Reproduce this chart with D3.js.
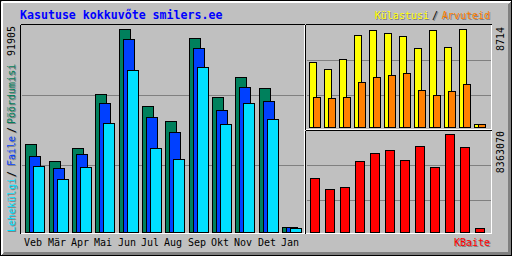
<!DOCTYPE html>
<html>
<head>
<meta charset="utf-8">
<script src="https://cdn.jsdelivr.net/npm/d3@7"></script>
<style>
body { margin: 0; background: #fff; }
svg { display: block; }
text { font-family: "DejaVu Sans Mono", monospace; }
</style>
</head>
<body>
<div id="chart"></div>
<script>
// monthly values
var months = ["Veb", "Mär", "Apr", "Mai", "Jun", "Jul", "Aug", "Sep", "Okt", "Nov", "Det", "Jan"];
var hits   = [39700, 32000, 37890, 62470, 91905, 56900, 50110, 87690, 60980, 70030, 65050, 2130];
var files  = [34400, 28840, 35170, 58260, 87240, 51920, 45130, 83160, 55090, 65510, 59300, 2130];
var pages  = [29880, 23860, 29430, 49210, 73200, 37890, 32910, 74560, 48760, 58260, 51020, 1680];
var visits = [5780, 5160, 6050, 8180, 8630, 8360, 8090, 7020, 8630, 7110, 8714, 270];
var sites  = [2670, 2580, 2670, 4000, 4450, 4620, 4800, 3290, 2850, 3200, 3820, 270];
var kbytes = [4634000, 3695000, 3866000, 6084000, 6742000, 7023000, 6170000, 7339000, 5573000, 8363070, 7254000, 341000];

var title = "Kasutuse kokkuvőte smilers.ee";

var W = 512, H = 256;
var bg = "#c0c0c0", dkgrey = "#808080";

var svg = d3.select("#chart").append("svg")
  .attr("width", W)
  .attr("height", H)
  .attr("shape-rendering", "crispEdges");

svg.append("rect").attr("width", W).attr("height", H).attr("fill", bg);

// bevel of the outer frame
function line(x1, y1, x2, y2, c) {
  svg.append("line")
    .attr("x1", x1 + 0.5).attr("y1", y1 + 0.5)
    .attr("x2", x2 + 0.5).attr("y2", y2 + 0.5)
    .attr("stroke", c);
}
line(1, 1, 510, 1, "#fff"); line(1, 2, 509, 2, "#fff");
line(1, 1, 1, 254, "#fff"); line(2, 1, 2, 253, "#fff");
line(1, 254, 510, 254, dkgrey); line(2, 253, 510, 253, dkgrey); line(3, 252, 510, 252, dkgrey);
line(510, 1, 510, 254, dkgrey); line(509, 2, 509, 254, dkgrey); line(508, 3, 508, 254, dkgrey);
svg.append("rect").attr("x", 0.5).attr("y", 0.5).attr("width", W - 1).attr("height", H - 1)
  .attr("fill", "none").attr("stroke", "#000");

// inset panels
function panel(x0, y0, x1, y1) {
  line(x0, y0, x1, y0, "#000");
  line(x0, y0, x0, y1, "#000");
  line(x0, y1, x1, y1, "#fff");
  line(x1, y0, x1, y1, "#fff");
}
panel(20, 24, 304, 233);
panel(305, 24, 491, 129);
panel(305, 130, 491, 233);

// grid lines
[95, 165].forEach(function (y) { line(21, y, 303, y, dkgrey); });
[60, 95].forEach(function (y) { line(306, y, 490, y, dkgrey); });
[165, 200].forEach(function (y) { line(306, y, 490, y, dkgrey); });

// scales
var xMain = d3.scaleBand().domain(months).range([25.4, 305.4]);
var xSide = d3.scaleBand().domain(months).range([309, 489]);
var yMain = d3.scaleLinear().domain([0, d3.max(hits)]).range([232, 29]);
var yVis  = d3.scaleLinear().domain([0, d3.max(visits)]).range([127, 29]);
var yKb   = d3.scaleLinear().domain([0, d3.max(kbytes)]).range([232, 134]);

function bars(values, x, off, w, y, color) {
  svg.append("g").selectAll("rect")
    .data(values)
    .enter()
    .append("rect")
    .attr("x", (d, i) => Math.round(x(months[i])) + off + 0.5)
    .attr("y", d => Math.round(y(d)) + 0.5)
    .attr("width", w)
    .attr("height", d => y(0) - Math.round(y(d)))
    .attr("fill", color)
    .attr("stroke", "#000");
}
bars(hits, xMain, 0, 11, yMain, "#00805c");
bars(files, xMain, 4, 11, yMain, "#0040ff");
bars(pages, xMain, 8, 11, yMain, "#00e0ff");
bars(visits, xSide, 0, 7, yVis, "#ffff00");
bars(sites, xSide, 4, 7, yVis, "#ff8000");
bars(kbytes, xSide, 1, 9, yKb, "#ff0000");

// labels
var txt = svg.append("g").attr("shape-rendering", "auto");

txt.append("text")
  .attr("x", 20).attr("y", 19)
  .style("font-size", "11.6px").style("font-weight", "bold")
  .attr("fill", "#0000ff")
  .text(title);

txt.selectAll(".mon")
  .data(months)
  .enter()
  .append("text")
  .attr("x", d => Math.round(xMain(d)) + 8)
  .attr("y", 246)
  .attr("text-anchor", "middle")
  .style("font-size", "10px")
  .attr("fill", "#000")
  .text(d => d);

// text with a dark grey shadow
function shadowText(x, y, s, color, anchor, rot) {
  [[1, 1, dkgrey], [0, 0, color]].forEach(function (p) {
    txt.append("text")
      .attr("transform", `translate(${x + p[0]}, ${y + p[1]})` + (rot ? " rotate(-90)" : ""))
      .attr("text-anchor", anchor)
      .style("font-size", "10px")
      .attr("fill", p[2])
      .text(s);
  });
}

// top right legend
shadowText(429, 19, "Külastusi", "#ffff00", "end", false);
shadowText(435, 19, "/", "#000", "middle", false);
shadowText(490, 19, "Arvuteid", "#ff8000", "end", false);
shadowText(490, 246, "KBaite", "#ff0000", "end", false);

// left vertical legend
shadowText(15, 232, "Lehekülgi", "#00e0ff", "start", true);
shadowText(15, 174, "/", "#000", "middle", true);
shadowText(15, 166, "Faile", "#0040ff", "start", true);
shadowText(15, 130, "/", "#000", "middle", true);
shadowText(15, 124, "Pöördumisi", "#00805c", "start", true);

// maximum values
function maxLabel(x, y, v) {
  txt.append("text")
    .attr("transform", `translate(${x}, ${y}) rotate(-90)`)
    .attr("text-anchor", "end")
    .style("font-size", "10px")
    .attr("fill", "#000")
    .text(v);
}
maxLabel(15, 26, d3.max(hits));
maxLabel(504, 27, d3.max(visits));
maxLabel(504, 131, d3.max(kbytes));
</script>
</body>
</html>
